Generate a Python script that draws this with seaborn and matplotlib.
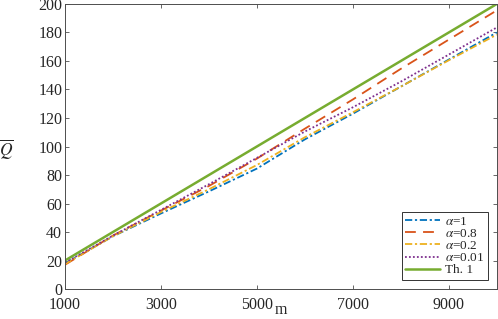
import matplotlib
matplotlib.use("Agg")
import matplotlib.pyplot as plt
import seaborn as sns
import pandas as pd

m = [1000, 2000, 3000, 4000, 5000, 6000, 7000, 8000, 9000, 10000]
q_a1 = [18.0, 37.0, 53.0, 68.5, 84.5, 105.0, 123.0, 142.0, 161.0, 180.0]
q_a08 = [17.0, 37.5, 55.0, 72.3, 91.5, 112.5, 133.0, 154.5, 175.0, 195.5]
q_a02 = [17.5, 37.0, 54.0, 70.0, 87.0, 106.5, 124.0, 142.0, 160.5, 178.5]
q_a001 = [18.5, 37.5, 55.5, 73.5, 92.0, 110.5, 127.5, 145.5, 164.5, 183.5]
q_th1 = [20.0, 40.0, 60.0, 80.0, 100.0, 120.0, 140.0, 160.0, 180.0, 200.0]

labels = [r"$\alpha$=1", r"$\alpha$=0.8", r"$\alpha$=0.2", r"$\alpha$=0.01", "Th. 1"]
series = [q_a1, q_a08, q_a02, q_a001, q_th1]
colors = ["#0072BD", "#D95319", "#EDB120", "#7E2F8E", "#77AC30"]
dashes = [(4, 1.5, 1.2, 1.5), (6, 4), (4, 1.5, 1.2, 1.5), (1, 1.2), ""]
widths = [1.3, 1.3, 1.3, 1.3, 1.8]

rows = []
for lab, vals in zip(labels, series):
    for mm, v in zip(m, vals):
        rows.append({"m": mm, "Q": v, "series": lab})
df = pd.DataFrame(rows)

sns.set_style("white")
plt.rcParams["font.family"] = ["Liberation Serif", "DejaVu Serif"]
plt.rcParams["mathtext.fontset"] = "stix"

fig = plt.figure(figsize=(4.98, 3.19), dpi=100)
ax = fig.add_axes([0.1305, 0.094, 0.867, 0.8935])

for lab, col, d, w in zip(labels, colors, dashes, widths):
    sub = df[df["series"] == lab]
    sns.lineplot(data=sub, x="m", y="Q", ax=ax, color=col, linewidth=w,
                 label=lab, legend=False)
    line = ax.lines[-1]
    if d:
        line.set_dashes(d)

ax.set_xlim(1000, 10000)
ax.set_ylim(0, 200)
ax.set_xticks([1000, 3000, 5000, 7000, 9000])
ax.set_yticks(range(0, 201, 20))
axcol = "#4d4d4d"
for s in ax.spines.values():
    s.set_visible(True)
    s.set_color(axcol)
    s.set_linewidth(0.7)
ax.tick_params(direction="in", length=3, width=0.6, colors=axcol,
               labelcolor="#262626", labelsize=11.5, top=True, right=True,
               bottom=True, left=True, pad=2)
ax.tick_params(axis="x", pad=6)
ax.set_xlabel("m", fontsize=11.5, color="#262626")
ax.xaxis.set_label_coords(0.5, -0.075)
ax.xaxis.label.set_va("center")
ax.set_ylabel(r"$\overline{Q}$", fontsize=12.5, color="#262626", rotation=0,
              va="center")
ax.yaxis.set_label_coords(-0.135, 0.49)

handles = ax.lines[:5]
leg = ax.legend(handles, labels, loc="lower right", fontsize=9.5,
                frameon=True, fancybox=False, framealpha=1,
                edgecolor="#333333", handlelength=2.6, handletextpad=0.4,
                borderpad=0.25, labelspacing=0.0, borderaxespad=0.7)
leg.get_frame().set_linewidth(0.7)

fig.savefig("out.png", dpi=100)
